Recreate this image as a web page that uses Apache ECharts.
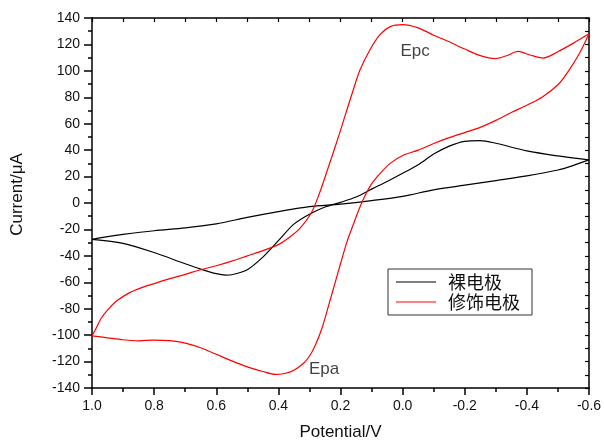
<!DOCTYPE html>
<html><head><meta charset="utf-8">
<script src="https://cdn.jsdelivr.net/npm/echarts@6/dist/echarts.min.js"></script>
<style>html,body{margin:0;padding:0;background:#fff}#c{width:604px;height:441px}</style>
</head><body><div id="c"></div>
<script>
const seriesNames = ['裸电极', '修饰电极'];
const xName = 'Potential/V';
const yName = 'Current/μA';

// bare electrode: forward (upper) branch 1.0 -> -0.6
const bareForward = [[1.0,-27.5],[0.95,-25.5],[0.9,-23.8],[0.8,-21],[0.7,-18.8],[0.6,-15.8],[0.5,-10.9],[0.4,-6.5],[0.3,-2.7],[0.2,-0.8],[0.1,1.8],[0.0,5],[-0.1,10],[-0.2,13.5],[-0.3,17],[-0.4,20.5],[-0.5,25],[-0.55,28.5],[-0.6,32.6]];
// bare electrode: reverse (lower) branch -0.6 -> 1.0
const bareReverse = [[-0.6,32.6],[-0.5,35.6],[-0.4,39.4],[-0.3,45.2],[-0.25,47.2],[-0.2,46.7],[-0.15,43],[-0.1,37],[-0.05,29],[0.0,22.5],[0.05,16.3],[0.1,10.5],[0.15,4.5],[0.2,0.5],[0.25,-3],[0.3,-8.5],[0.35,-16],[0.4,-28.5],[0.45,-41],[0.5,-50.5],[0.55,-54.3],[0.57,-54.6],[0.6,-53.5],[0.65,-50],[0.7,-46],[0.8,-37.5],[0.9,-30.5],[1.0,-27.5]];
// modified electrode: forward branch 1.0 -> -0.6 (lower, steep rise, middle)
const modForward = [[1.0,-100.5],[0.95,-102],[0.9,-103.5],[0.85,-104.3],[0.8,-103.7],[0.75,-104.2],[0.7,-106],[0.65,-109.5],[0.6,-114.5],[0.55,-119.5],[0.5,-124],[0.45,-127.5],[0.41,-129.7],[0.38,-129],[0.35,-126.5],[0.32,-121.5],[0.3,-116],[0.28,-107],[0.26,-95],[0.24,-79],[0.22,-62.5],[0.2,-46],[0.18,-30],[0.16,-17],[0.14,-4.5],[0.12,6],[0.1,14.5],[0.07,23],[0.04,30],[0.0,36],[-0.05,40],[-0.1,45],[-0.15,49.5],[-0.2,53.3],[-0.25,57.2],[-0.3,62.5],[-0.35,68.5],[-0.4,74],[-0.45,80.3],[-0.5,89.5],[-0.53,98.5],[-0.57,113.5],[-0.6,128]];
// modified electrode: reverse (upper) branch -0.6 -> 1.0
const modReverse = [[-0.6,128],[-0.55,121],[-0.5,114.5],[-0.452,109.7],[-0.41,112],[-0.372,114.7],[-0.334,111.4],[-0.297,109.2],[-0.25,111.5],[-0.2,116.5],[-0.15,122],[-0.1,127],[-0.05,132.5],[0.0,135],[0.04,133.5],[0.073,127.4],[0.105,116],[0.137,100.8],[0.159,85.5],[0.18,70],[0.2,55],[0.22,40.5],[0.24,26.5],[0.266,8.5],[0.293,-7],[0.33,-19],[0.362,-25.5],[0.4,-31.5],[0.45,-36],[0.5,-40],[0.55,-44],[0.6,-47.5],[0.65,-50.5],[0.7,-54],[0.76,-58],[0.8,-61],[0.84,-64],[0.88,-68],[0.92,-74],[0.95,-81],[0.97,-87],[0.985,-94],[1.0,-100.5]];

const peakLabels = [[-0.04,115,'Epc'],[0.253,-125.5,'Epa']];
const xMin = -0.6, xMax = 1.0, xStep = 0.2;
const yMin = -140, yMax = 140, yStep = 20;

const FONT = 'Liberation Sans, Arial, sans-serif';
const chart = echarts.init(document.getElementById('c'), null, {renderer: 'canvas'});
const axisLine = {show: true, onZero: false, lineStyle: {color: '#000', width: 1.5}};
const fmtX = v => Math.abs(v) < 1e-9 ? '0.0' : v.toFixed(1);

function lineSeries(name, data, color) {
  return {type: 'line', name, data, symbol: 'none', smooth: 0.3, clip: true,
    lineStyle: {color, width: 1.2}, itemStyle: {color}, z: 3};
}

chart.setOption({
  animation: false,
  backgroundColor: '#fff',
  grid: {left: 92, right: 15, top: 18, bottom: 53, containLabel: false, outerBoundsMode: 'none'},
  legend: {
    data: seriesNames, orient: 'vertical', left: 388, top: 269,
    icon: 'rect', itemWidth: 40, itemHeight: 1, itemGap: 2,
    padding: [4, 12, 4, 8], borderColor: '#333', borderWidth: 1,
    selectedMode: false, backgroundColor: '#fff',
    textStyle: {fontSize: 18, lineHeight: 18, color: '#111', fontFamily: 'Noto Sans CJK SC', padding: [0, 0, 0, 7]}
  },
  xAxis: [{
    type: 'value', min: xMin, max: xMax, interval: xStep, inverse: true,
    name: xName, nameLocation: 'middle', nameGap: 36,
    nameTextStyle: {fontSize: 17, color: '#111', fontFamily: FONT},
    axisLine, splitLine: {show: false},
    axisTick: {show: true, inside: false, length: 7, lineStyle: {color: '#000', width: 1.5}},
    minorTick: {show: true, splitNumber: 2, length: 4, lineStyle: {color: '#000', width: 1.5}},
    axisLabel: {formatter: fmtX, fontSize: 14, color: '#111', fontFamily: FONT, margin: 11}
  }, {
    type: 'value', min: xMin, max: xMax, interval: xStep, inverse: true, position: 'top',
    axisLine, splitLine: {show: false}, axisLabel: {show: false},
    axisTick: {show: true, inside: true, length: 4, lineStyle: {color: '#000', width: 1.2}},
    minorTick: {show: true, splitNumber: 2, length: 4, lineStyle: {color: '#000', width: 1.2}}
  }],
  yAxis: [{
    type: 'value', min: yMin, max: yMax, interval: yStep,
    name: yName, nameLocation: 'middle', nameGap: 66, nameRotate: 90,
    nameTextStyle: {fontSize: 17, color: '#111', fontFamily: FONT, padding: [0, 0, 0, 17]},
    axisLine, splitLine: {show: false},
    axisTick: {show: true, inside: false, length: 8, lineStyle: {color: '#000', width: 1.5}},
    minorTick: {show: true, splitNumber: 2, length: 4, lineStyle: {color: '#000', width: 1.5}},
    axisLabel: {fontSize: 14, color: '#111', fontFamily: FONT, margin: 12}
  }, {
    type: 'value', min: yMin, max: yMax, interval: yStep, position: 'right',
    axisLine, splitLine: {show: false}, axisLabel: {show: false},
    axisTick: {show: true, inside: true, length: 4, lineStyle: {color: '#000', width: 1.2}},
    minorTick: {show: true, splitNumber: 2, length: 4, lineStyle: {color: '#000', width: 1.2}}
  }],
  series: [
    lineSeries(seriesNames[0], bareForward, '#000'),
    lineSeries(seriesNames[0], bareReverse, '#000'),
    lineSeries(seriesNames[1], modForward, '#ff0000'),
    lineSeries(seriesNames[1], modReverse, '#ff0000'),
    {
      type: 'scatter', name: 'peaks', data: peakLabels, symbolSize: 2,
      itemStyle: {color: 'transparent'}, z: 5,
      label: {show: true, position: 'inside', formatter: p => p.data[2], fontSize: 17, color: '#111', fontFamily: FONT}
    }
  ]
});
</script>
</body></html>
